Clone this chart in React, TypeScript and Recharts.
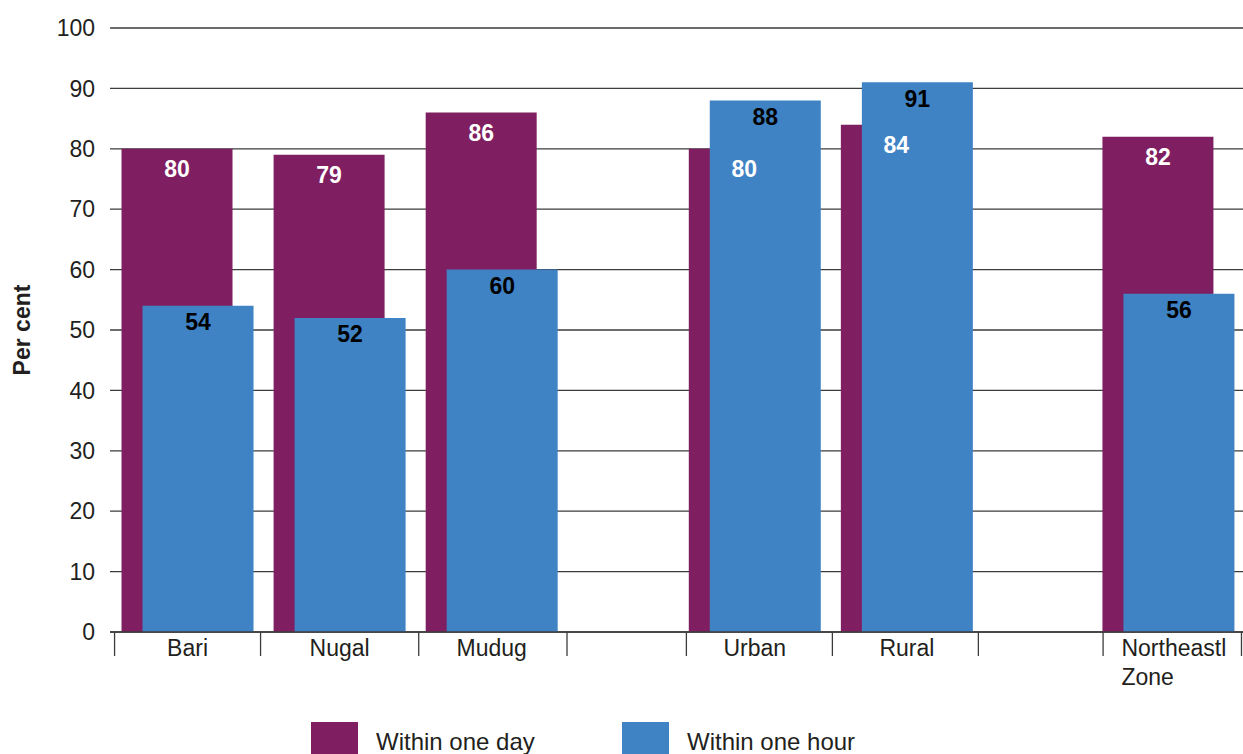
import React from "react";
import {
  BarChart,
  Bar,
  XAxis,
  YAxis,
  CartesianGrid,
  LabelList,
  Legend,
} from "recharts";

const CATEGORIES = ["Bari", "Nugal", "Mudug", "Urban", "Rural", "Northeastl Zone"];
const WITHIN_ONE_DAY = [80, 79, 86, 80, 84, 82];
const WITHIN_ONE_HOUR = [54, 52, 60, 88, 91, 56];
const Y_TICKS = [0, 10, 20, 30, 40, 50, 60, 70, 80, 90, 100];

// where each group sits on the x axis (regions | residence | zone), in group widths
const SLOTS = [0.01, 1.01, 2.01, 3.74, 4.74, 6.46];
// short divider ticks hanging under the axis line
const DIVIDERS = [-0.47, 0.49, 1.53, 2.505, 3.29, 4.25, 5.21, 6.03, 6.94];
const X_DOMAIN: [number, number] = [-0.5, 6.95];

const PURPLE = "#7F1F61";
const BLUE = "#3F83C5";
const INK = "#231F20";
const GRID = "#3c3c3c";
const FONT = "'Liberation Sans', Arial, Helvetica, sans-serif";

const data = CATEGORIES.map((name, i) => ({
  name,
  pos: SLOTS[i],
  day: WITHIN_ONE_DAY[i],
  hour: WITHIN_ONE_HOUR[i],
}));

function AxisTick(props: any) {
  const { x, y, payload } = props;
  const v = payload.value;
  if (DIVIDERS.includes(v)) {
    return <line x1={x} x2={x} y1={y} y2={y + 24} stroke={GRID} strokeWidth={1.3} />;
  }
  const i = SLOTS.indexOf(v);
  if (i < 0) return null;
  const words = CATEGORIES[i].split(" ");
  if (words.length > 1) {
    // long labels wrap and hang left-aligned
    return (
      <text x={x - 47} y={y + 24} textAnchor="start" fill={INK} fontSize={23} fontFamily={FONT}>
        {words.map((w, k) => (
          <tspan key={w} x={x - 47} dy={k === 0 ? 0 : 29}>
            {w}
          </tspan>
        ))}
      </text>
    );
  }
  return (
    <text x={x} y={y + 24} textAnchor="middle" fill={INK} fontSize={23} fontFamily={FONT}>
      {CATEGORIES[i]}
    </text>
  );
}

function PerCentLabel(props: any) {
  const { y, height } = props.viewBox;
  return (
    <text
      transform={`translate(22, ${y + height / 2}) rotate(-90)`}
      textAnchor="middle"
      dominantBaseline="central"
      fill={INK}
      fontSize={23}
      fontWeight="bold"
      fontFamily={FONT}
    >
      Per cent
    </text>
  );
}

function renderLegend(props: any) {
  const { payload } = props;
  return (
    <div style={{ display: "flex", paddingLeft: 311, height: 32, fontFamily: FONT }}>
      {payload.map((entry: any) => (
        <div key={entry.value} style={{ display: "flex", width: 311 }}>
          <div style={{ width: 47, height: 40, background: entry.color, marginRight: 18 }} />
          <span style={{ fontSize: 24, lineHeight: "40px", color: INK }}>{entry.value}</span>
        </div>
      ))}
    </div>
  );
}

export default function App() {
  return (
    <div style={{ width: 1243, height: 754, overflow: "hidden", background: "#fff" }}>
      <style>{"body{margin:0}"}</style>
      <BarChart
        width={1243}
        height={754}
        data={data}
        margin={{ top: 28, right: 0, bottom: 0, left: 0 }}
        barSize={111}
        barGap={-90}
      >
        <CartesianGrid vertical={false} stroke={GRID} strokeWidth={1.3} />
        <XAxis xAxisId="bars" dataKey="pos" type="number" domain={X_DOMAIN} hide />
        <XAxis
          dataKey="pos"
          type="number"
          domain={X_DOMAIN}
          ticks={[...DIVIDERS, ...SLOTS]}
          interval={0}
          tick={<AxisTick />}
          tickLine={false}
          tickSize={0}
          tickMargin={0}
          axisLine={{ stroke: GRID, strokeWidth: 1.3 }}
          height={90}
        />
        <YAxis
          domain={[0, 100]}
          ticks={Y_TICKS}
          width={110}
          axisLine={false}
          tickLine={false}
          tickSize={0}
          tickMargin={15}
          tick={{ fill: INK, fontSize: 23, fontFamily: FONT }}
          label={{ content: PerCentLabel }}
        />
        <Legend verticalAlign="bottom" content={renderLegend} />
        <Bar xAxisId="bars" dataKey="day" name="Within one day" fill={PURPLE} isAnimationActive={false}>
          <LabelList
            dataKey="day"
            position="insideTop"
            offset={12}
            fill="#fff"
            fontSize={23}
            fontWeight="bold"
            fontFamily={FONT}
          />
        </Bar>
        <Bar xAxisId="bars" dataKey="hour" name="Within one hour" fill={BLUE} isAnimationActive={false}>
          <LabelList
            dataKey="hour"
            position="insideTop"
            offset={8}
            fill="#000"
            fontSize={23}
            fontWeight="bold"
            fontFamily={FONT}
          />
        </Bar>
      </BarChart>
    </div>
  );
}
